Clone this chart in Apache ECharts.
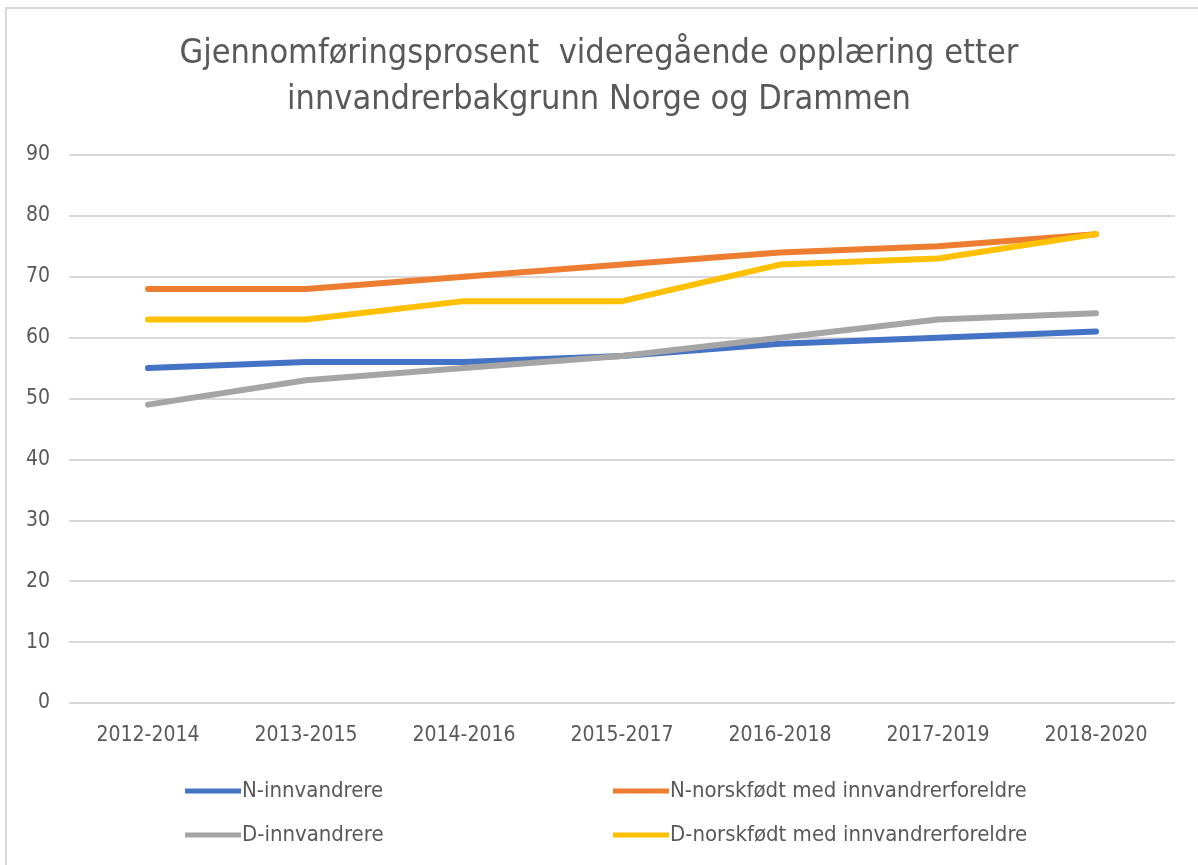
<!DOCTYPE html>
<html>
<head>
<meta charset="utf-8">
<script src="https://cdn.jsdelivr.net/npm/echarts@6/dist/echarts.min.js"></script>
<style>
  html, body { margin: 0; padding: 0; background: #ffffff; }
  #chart { width: 1198px; height: 865px; }
</style>
</head>
<body>
<div id="chart"></div>
<script>
const categories = ['2012-2014', '2013-2015', '2014-2016', '2015-2017', '2016-2018', '2017-2019', '2018-2020'];
const seriesNames = ['N-innvandrere', 'N-norskfødt med innvandrerforeldre', 'D-innvandrere', 'D-norskfødt med innvandrerforeldre'];
const nInnvandrere = [55, 56, 56, 57, 59, 60, 61];
const nNorskfodt = [68, 68, 70, 72, 74, 75, 77];
const dInnvandrere = [49, 53, 55, 57, 60, 63, 64];
const dNorskfodt = [63, 63, 66, 66, 72, 73, 77];
const colors = ['#4472C4', '#ED7D31', '#A5A5A5', '#FFC000'];

const font = '"Liberation Sans Narrow", "DejaVu Sans Condensed", "Open Sans", sans-serif';
const textColor = '#595959';

const chart = echarts.init(document.getElementById('chart'));

function legendAt(name, left, top) {
    return {
        data: [name],
        left: left,
        top: top,
        icon: 'rect',
        itemWidth: 56,
        itemHeight: 5,
        itemGap: 0,
        textStyle: { color: textColor, fontSize: 22, fontFamily: font, padding: [0, 0, 0, -4] }
    };
}

const allData = [nInnvandrere, nNorskfodt, dInnvandrere, dNorskfodt];

chart.setOption({
    backgroundColor: '#ffffff',
    animation: false,
    color: colors,
    title: {
        text: 'Gjennomføringsprosent  videregående opplæring etter\ninnvandrerbakgrunn Norge og Drammen',
        left: 'center',
        top: 26,
        textStyle: {
            color: textColor,
            fontSize: 34,
            fontWeight: 'normal',
            fontFamily: font,
            lineHeight: 46
        }
    },
    graphic: [{
        type: 'rect',
        shape: { x: 6, y: 8, width: 1220, height: 900 },
        style: { fill: 'none', stroke: '#d9d9d9', lineWidth: 2 },
        silent: true
    }],
    legend: [
        legendAt(seriesNames[0], 180, 775),
        legendAt(seriesNames[1], 608, 775),
        legendAt(seriesNames[2], 180, 819),
        legendAt(seriesNames[3], 608, 819)
    ],
    grid: {
        left: 69,
        right: 23,
        top: 155,
        bottom: 162
    },
    xAxis: {
        type: 'category',
        data: categories,
        boundaryGap: true,
        axisLine: { show: false },
        axisTick: { show: false },
        axisLabel: { color: textColor, fontSize: 21, fontFamily: font, margin: 22 }
    },
    yAxis: {
        type: 'value',
        min: 0,
        max: 90,
        interval: 10,
        axisLine: { show: false },
        axisTick: { show: false },
        axisLabel: { color: textColor, fontSize: 21, fontFamily: font, margin: 19 },
        splitLine: { lineStyle: { color: '#d9d9d9', width: 2 } }
    },
    series: seriesNames.map((name, i) => ({
        name: name,
        type: 'line',
        data: allData[i],
        symbol: 'none',
        lineStyle: { width: 6, color: colors[i], cap: 'round', join: 'round' },
        itemStyle: { color: colors[i] }
    }))
});

window.addEventListener('resize', () => chart.resize());
</script>
</body>
</html>
